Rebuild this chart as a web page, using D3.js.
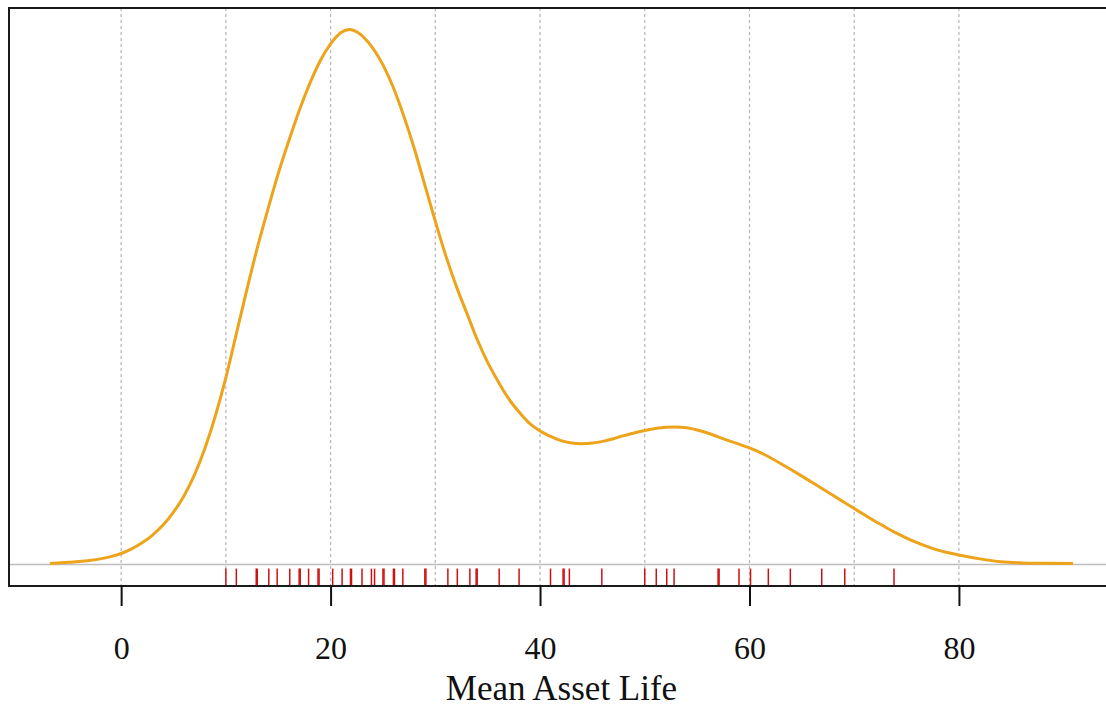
<!DOCTYPE html>
<html>
<head>
<meta charset="utf-8">
<script src="https://cdn.jsdelivr.net/npm/d3@7"></script>
<style>
  html, body { margin: 0; padding: 0; background: #fff; }
  svg { display: block; }
</style>
</head>
<body>
<svg id="chart" width="1106" height="708"></svg>
<script>
// ---- Data ----
const densityX = [-6.8, -5, -4, -3, -2, -1, 0, 1, 2, 3, 4, 5, 6, 7, 8, 9, 10, 11, 12, 13, 14, 15, 16, 17, 18, 19, 20,
  21, 21.8, 22.6, 24, 25, 26, 27, 28, 29, 30, 31, 32, 33, 34, 35, 36, 37, 38, 39, 40, 41, 42, 43, 44, 45, 46, 47,
  48, 49, 50, 51, 52, 53, 54, 55, 56, 57, 58, 59, 60, 61, 62, 63, 64, 65, 66, 67, 68, 69, 70, 71, 72, 73, 74, 75,
  76, 77, 78, 79, 80, 82, 84, 86, 88, 90.9];
const densityY = [0.00006, 0.00012, 0.00016, 0.00022, 0.0003, 0.00042, 0.00058, 0.00082, 0.00114, 0.00155, 0.00207,
  0.00275, 0.0036, 0.0047, 0.0061, 0.0078, 0.0098, 0.0121, 0.0144, 0.0166, 0.0186, 0.0205, 0.0222, 0.0238, 0.0252,
  0.0264, 0.0273, 0.0279, 0.02806, 0.0279, 0.0271, 0.0262, 0.0250, 0.0235, 0.0218, 0.0199, 0.0180, 0.0162, 0.0146,
  0.0132, 0.0118, 0.0106, 0.0096, 0.0087, 0.0080, 0.0074, 0.0070, 0.00672, 0.0065, 0.00638, 0.00634, 0.00637,
  0.00646, 0.0066, 0.00676, 0.0069, 0.00703, 0.00713, 0.0072, 0.00722, 0.00717, 0.00706, 0.0069, 0.0067, 0.0065,
  0.00632, 0.00612, 0.00588, 0.0056, 0.00529, 0.00497, 0.00464, 0.0043, 0.00396, 0.00362, 0.00328, 0.00294, 0.0026,
  0.00227, 0.00196, 0.00166, 0.00139, 0.00115, 0.00094, 0.00076, 0.00062, 0.0005, 0.0003, 0.00015, 0.00009,
  0.00007, 0.00006];
const rugValues = [10.0, 11.0, 12.9, 13.0, 14.1, 14.9, 16.1, 17.0, 17.1, 17.9, 18.8, 18.9, 20.2, 21.1, 21.9, 22.0,
  23.0, 23.9, 24.2, 25.0, 25.1, 26.0, 26.1, 26.9, 29.0, 29.1, 31.2, 32.1, 33.3, 33.9, 34.0, 36.1, 38.0, 41.0,
  42.2, 42.3, 42.8, 45.9, 50.0, 51.1, 52.1, 52.8, 57.0, 57.1, 59.0, 60.1, 61.8, 63.9, 66.9, 69.1, 73.8];
const xTicks = [0, 20, 40, 60, 80];
const gridTicks = [0, 10, 20, 30, 40, 50, 60, 70, 80];
const xLabel = "Mean Asset Life";

// ---- Layout ----
const svg = d3.select("#chart");
const box = { left: 9, right: 1114, top: 8, bottom: 586 };

const xMin = d3.min(densityX), xMax = d3.max(densityX);
const xPad = (xMax - xMin) * 0.04;
const x = d3.scaleLinear().domain([xMin - xPad, xMax + xPad]).range([box.left, box.right]);
const yMax = d3.max(densityY);
const y = d3.scaleLinear().domain([-0.04 * yMax, 1.04 * yMax]).range([box.bottom, box.top]);

// gridlines
svg.append("g").selectAll("line").data(gridTicks).join("line")
  .attr("x1", d => x(d)).attr("x2", d => x(d))
  .attr("y1", box.top).attr("y2", box.bottom)
  .attr("stroke", "#b4b4b4").attr("stroke-width", 1.2)
  .attr("stroke-dasharray", "3,3");

// zero baseline
svg.append("line")
  .attr("x1", box.left).attr("x2", box.right)
  .attr("y1", y(0)).attr("y2", y(0))
  .attr("stroke", "#bdbdbd").attr("stroke-width", 1.5);

// density curve
const pts = densityX.map((v, i) => [v, densityY[i]]);
svg.append("path")
  .datum(pts)
  .attr("fill", "none")
  .attr("stroke", "#eda31a")
  .attr("stroke-width", 3)
  .attr("stroke-linejoin", "round")
  .attr("d", d3.line().x(d => x(d[0])).y(d => y(d[1])).curve(d3.curveMonotoneX));

// rug
svg.append("g").selectAll("line").data(rugValues).join("line")
  .attr("x1", d => x(d)).attr("x2", d => x(d))
  .attr("y1", y(0) + 4).attr("y2", box.bottom)
  .attr("stroke", "#d01010").attr("stroke-width", 1.5);

// box (left, top, bottom)
svg.append("path")
  .attr("d", `M${box.right},${box.top}H${box.left}V${box.bottom}H${box.right}`)
  .attr("fill", "none").attr("stroke", "#1a1a1a").attr("stroke-width", 2);

// x axis ticks & labels
const axis = d3.axisBottom(x).tickValues(xTicks).tickSize(20).tickPadding(0).tickFormat(d3.format("d"));
const gAxis = svg.append("g").attr("transform", `translate(0,${box.bottom})`).call(axis);
gAxis.select(".domain").remove();
gAxis.selectAll(".tick line").attr("stroke", "#111").attr("stroke-width", 2);
gAxis.selectAll(".tick text")
  .attr("y", 0).attr("dy", 0)
  .attr("transform", "translate(0,73)")
  .attr("font-family", "Liberation Serif, Times New Roman, serif")
  .attr("font-size", 32).attr("fill", "#111");

// x label
svg.append("text")
  .attr("x", (box.left + box.right) / 2).attr("y", 700)
  .attr("text-anchor", "middle")
  .attr("font-family", "Liberation Serif, Times New Roman, serif")
  .attr("font-size", 35).attr("fill", "#111")
  .text(xLabel);
</script>
</body>
</html>
